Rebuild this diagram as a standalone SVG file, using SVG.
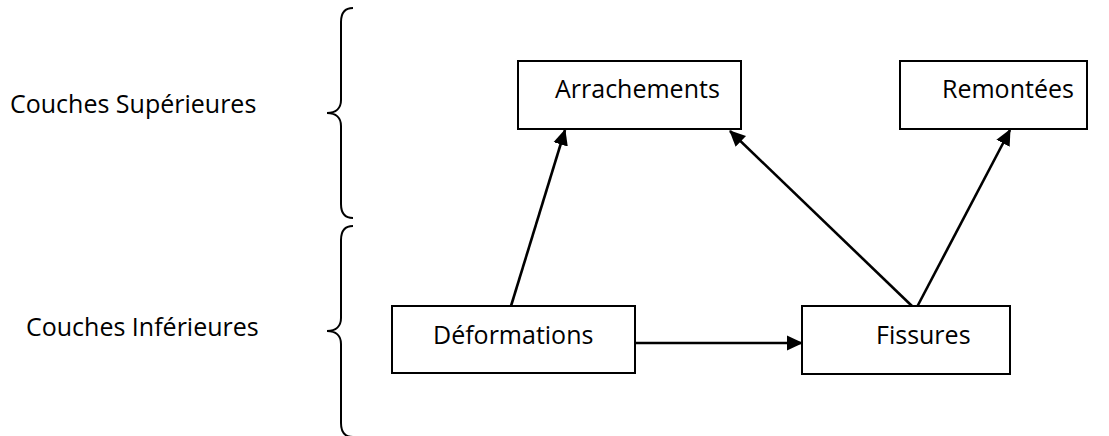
<svg xmlns="http://www.w3.org/2000/svg" width="1109" height="436" viewBox="0 0 1109 436">
  <style>
    .box { fill: #ffffff; stroke: #000000; stroke-width: 2; }
    .label { font-family: "Open Sans", "Liberation Sans", sans-serif; font-size: 25px; fill: #000000; }
    .edge { fill: none; stroke: #000000; stroke-width: 2.6; }
    .brace { fill: none; stroke: #000000; stroke-width: 2; }
  </style>
  <defs>
    <marker id="arrow" markerUnits="userSpaceOnUse" markerWidth="16" markerHeight="16" refX="15" refY="8" orient="auto">
      <path d="M0,0.5 L16,8 L0,15.5 Z" fill="#000000"/>
    </marker>
  </defs>
  <rect width="1109" height="436" fill="#ffffff"/>

  <!-- layer labels -->
  <g id="layer-labels">
    <text class="label" x="10" y="113">Couches Supérieures</text>
    <text class="label" x="26" y="336">Couches Inférieures</text>
  </g>

  <!-- curly braces grouping the layers -->
  <g id="braces">
    <path class="brace" d="M353,8 C345,8 341,13 341,22 L341,100 C341,108 336,113 327,113 C336,113 341,118 341,126 L341,204 C341,213 345,218 353,218"/>
    <path class="brace" d="M353,226 C345,226 341,231 341,240 L341,318 C341,326 336,331 327,331 C336,331 341,336 341,344 L341,423 C341,432 345,437 353,437"/>
  </g>

  <!-- connectors -->
  <g id="connectors">
    <line class="edge" x1="511" y1="306" x2="565" y2="130" marker-end="url(#arrow)"/>
    <line class="edge" x1="913" y1="307" x2="730" y2="131" marker-end="url(#arrow)"/>
    <line class="edge" x1="917" y1="307" x2="1010" y2="130" marker-end="url(#arrow)"/>
    <line class="edge" x1="635" y1="343" x2="802" y2="343" marker-end="url(#arrow)"/>
  </g>

  <g id="node-arrachements">
    <rect class="box" x="518" y="61" width="223" height="68"/>
    <text class="label" x="555" y="98">Arrachements</text>
  </g>
  <g id="node-remontees">
    <rect class="box" x="900" y="61" width="187" height="68"/>
    <text class="label" x="942" y="98">Remontées</text>
  </g>
  <g id="node-deformations">
    <rect class="box" x="392" y="306" width="243" height="67"/>
    <text class="label" x="433" y="344">Déformations</text>
  </g>
  <g id="node-fissures">
    <rect class="box" x="802" y="306" width="208" height="68"/>
    <text class="label" x="876" y="344">Fissures</text>
  </g>
</svg>
